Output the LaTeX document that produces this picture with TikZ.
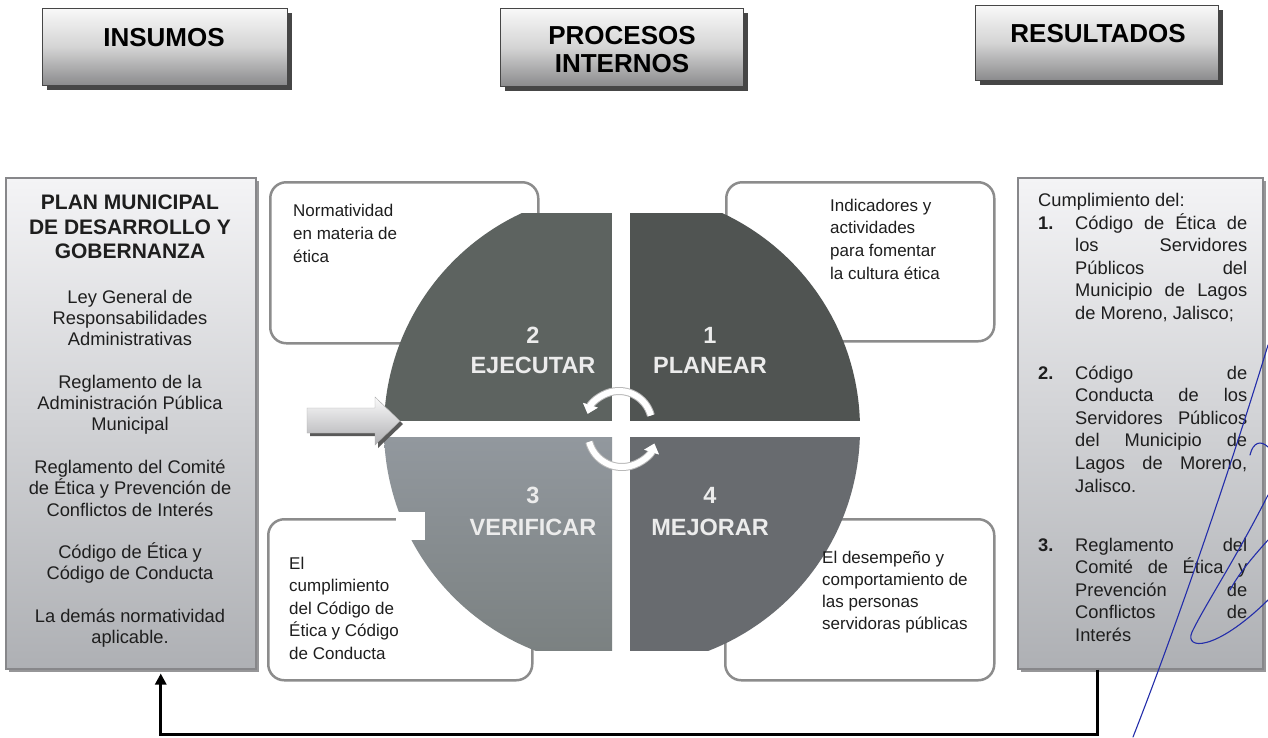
\documentclass[tikz,border=0pt]{standalone}
\usepackage{fontspec}
\setmainfont{Liberation Sans}
\usetikzlibrary{arrows.meta,shadows}
\definecolor{hdrtop}{RGB}{248,248,248}
\definecolor{hdrmid}{RGB}{212,212,212}
\definecolor{hdrbot}{RGB}{138,138,140}
\definecolor{hdrline}{RGB}{70,70,70}
\definecolor{shd}{RGB}{70,70,70}
\definecolor{pantop}{RGB}{244,244,246}
\definecolor{panbot}{RGB}{174,176,180}
\definecolor{panline}{RGB}{135,135,138}
\definecolor{panshd}{RGB}{150,150,152}
\definecolor{boxline}{RGB}{140,140,140}
\definecolor{qtl}{RGB}{93,99,96}
\definecolor{qtr}{RGB}{80,84,82}
\definecolor{qbltop}{RGB}{146,152,158}
\definecolor{qblbot}{RGB}{122,128,128}
\definecolor{qbr}{RGB}{104,107,111}
\definecolor{qtext}{RGB}{236,236,236}
\definecolor{txt}{RGB}{30,30,30}
\definecolor{sigblue}{RGB}{35,45,170}
\definecolor{arrtop}{RGB}{250,250,250}
\definecolor{arrbot}{RGB}{175,175,178}
\newcommand{\jl}[1]{\makebox[172pt][s]{#1}}
\newcommand{\ind}{\hspace*{37pt}}
\begin{document}
\begin{tikzpicture}[x=1pt,y=-1pt,
  hdr/.style={draw=hdrline, line width=1pt, top color=hdrtop, bottom color=hdrbot, middle color=hdrmid,
    drop shadow={shadow xshift=4pt, shadow yshift=-4pt, fill=shd, opacity=1}, inner sep=0pt, anchor=north west},
  hdrtext/.style={anchor=base, inner sep=0pt, font=\fontsize{26}{28}\selectfont\bfseries, text=black},
  panel/.style={draw=panline, line width=1.5pt, top color=pantop, bottom color=panbot,
    drop shadow={shadow xshift=3pt, shadow yshift=-3pt, fill=panshd, opacity=1}, inner sep=0pt, anchor=north west},
  cbox/.style={draw=boxline, line width=2.5pt, fill=white, rounded corners=16pt, inner sep=0pt, anchor=north west},
  txtnode/.style={inner sep=0pt, text=txt},
  qlabel/.style={anchor=base, inner sep=0pt, text=qtext},
  cyc/.style={white, line width=6pt, -{Triangle[length=9pt,width=15pt]}, preaction={draw=gray!55, line width=8pt}},
  fb/.style={line width=2.8pt, black, -{Triangle[length=11pt,width=11pt]}},
  sig/.style={sigblue, line width=1.1pt, line cap=round}
]
\useasboundingbox (0,0) rectangle (1268,737);
\fill[white] (0,0) rectangle (1268,737);

% headers
\node[hdr, minimum width=245pt, minimum height=77pt] (h1) at (42,8) {};
\node[hdr, minimum width=243pt, minimum height=78pt] (h2) at (500,8) {};
\node[hdr, minimum width=243pt, minimum height=75pt] (h3) at (975,5) {};
\node[hdrtext] (t1) at (164,46.5) {INSUMOS};
\node[hdrtext] (t2) at (622,44.5) {\parbox[t]{220pt}{\centering PROCESOS\\INTERNOS}};
\node[hdrtext] (t3) at (1098,42.5) {RESULTADOS};

% side panels
\node[panel, minimum width=250pt, minimum height=491pt] (lb) at (5,177) {};
\node[panel, minimum width=245pt, minimum height=491pt] (rb) at (1017,177) {};

\node[txtnode, anchor=base] (lbt) at (130,209.5) {\parbox[t]{245pt}{\centering\fontsize{21}{24.5}\selectfont\bfseries PLAN MUNICIPAL\\DE DESARROLLO Y\\GOBERNANZA}};
\node[txtnode, anchor=base] (lbb) at (130,303) {\parbox[t]{245pt}{\centering\fontsize{18.3}{21.3}\selectfont Ley General de\\Responsabilidades\\Administrativas\\[21.3pt]Reglamento de la\\Administración Pública\\Municipal\\[21.3pt]Reglamento del Comité\\de Ética y Prevención de\\Conflictos de Interés\\[21.3pt]Código de Ética y\\Código de Conducta\\[21.3pt]La demás normatividad\\aplicable.}};

\node[txtnode, anchor=base west] (rb0) at (1038,206) {\fontsize{18.3}{22.6}\selectfont Cumplimiento del:};
\node[txtnode, anchor=base west] (rb1) at (1038,229) {\parbox[t]{215pt}{\fontsize{18.3}{22.6}\selectfont\makebox[37pt][l]{\bfseries 1.}\jl{Código de Ética de}\\\ind\jl{los Servidores}\\\ind\jl{Públicos del}\\\ind\jl{Municipio de Lagos}\\\ind de Moreno, Jalisco;}};
\node[txtnode, anchor=base west] (rb2) at (1038,379) {\parbox[t]{215pt}{\fontsize{18.3}{22.6}\selectfont\makebox[37pt][l]{\bfseries 2.}\jl{Código de}\\\ind\jl{Conducta de los}\\\ind\jl{Servidores Públicos}\\\ind\jl{del Municipio de}\\\ind\jl{Lagos de Moreno,}\\\ind Jalisco.}};
\node[txtnode, anchor=base west] (rb3) at (1038,551) {\parbox[t]{215pt}{\fontsize{18.3}{22.6}\selectfont\makebox[37pt][l]{\bfseries 3.}\jl{Reglamento del}\\\ind\jl{Comité de Ética y}\\\ind\jl{Prevención de}\\\ind\jl{Conflictos de}\\\ind Interés}};

% corner boxes
\node[cbox, minimum width=268pt, minimum height=161pt] (b1) at (269,181) {};
\node[cbox, minimum width=268pt, minimum height=159pt] (b2) at (725,181) {};
\node[cbox, minimum width=264pt, minimum height=161pt] (b3) at (267,518) {};
\node[cbox, minimum width=269pt, minimum height=161pt] (b4) at (724,518) {};

% circle of four quadrants
\begin{scope}
  \clip (622,429) circle (238pt);
  \clip (300,213) rectangle (950,650);
  \fill[qtl] (370,200) rectangle (612,421);
  \fill[qtr] (630,200) rectangle (880,421);
  \shade[top color=qbltop, bottom color=qblbot] (370,437) rectangle (612,660);
  \fill[qbr] (630,437) rectangle (880,660);
\end{scope}
\fill[white] (396,512) rectangle (425,540);

% entry block arrow
\fill[gray!70!black] (310,411) -- (378,411) -- (378,400) -- (403,424) -- (378,448) -- (378,436) -- (310,436) -- cycle;
\shade[top color=arrtop, bottom color=arrbot, draw=gray!65] (307,408) -- (375,408) -- (375,397) -- (400,421) -- (375,445) -- (375,433) -- (307,433) -- cycle;

% cycle arrows
\draw[cyc] ([shift={(15:33pt)}]619,424) arc[start angle=15, end angle=162, radius=33pt];
\draw[cyc] ([shift={(195:34pt)}]622,433) arc[start angle=195, end angle=342, radius=34pt];

% quadrant labels
\node[qlabel] (q2) at (533,343.5) {\parbox[t]{160pt}{\centering\fontsize{23.5}{30}\selectfont\bfseries 2\\EJECUTAR}};
\node[qlabel] (q1) at (710,343.5) {\parbox[t]{160pt}{\centering\fontsize{23.5}{30}\selectfont\bfseries 1\\PLANEAR}};
\node[qlabel] (q3) at (533,503.5) {\parbox[t]{160pt}{\centering\fontsize{23.5}{31.5}\selectfont\bfseries 3\\VERIFICAR}};
\node[qlabel] (q4) at (710,503.5) {\parbox[t]{160pt}{\centering\fontsize{23.5}{31.5}\selectfont\bfseries 4\\MEJORAR}};

% corner box texts
\node[txtnode, anchor=base west] (b1t) at (293,216) {\parbox[t]{150pt}{\fontsize{17}{23}\selectfont Normatividad\\en materia de\\ética}};
\node[txtnode, anchor=base west] (b2t) at (830,211) {\parbox[t]{150pt}{\fontsize{17}{22.7}\selectfont Indicadores y\\actividades\\para fomentar\\la cultura ética}};
\node[txtnode, anchor=base west] (b3t) at (289,569) {\parbox[t]{150pt}{\fontsize{17}{22.5}\selectfont El\\cumplimiento\\del Código de\\Ética y Código\\de Conducta}};
\node[txtnode, anchor=base west] (b4t) at (822,563) {\parbox[t]{160pt}{\fontsize{17}{22}\selectfont El desempeño y\\comportamiento de\\las personas\\servidoras públicas}};

% feedback connector
\draw[fb] ([xshift=-42.5pt]rb.south) -- ++(0,65) -| ([xshift=30pt,yshift=-4pt]lb.south);

% pen marks
\draw[sig] (1133,737) .. controls (1175,630) and (1230,470) .. (1268,345);
\draw[sig] (1268,495) .. controls (1235,560) and (1205,605) .. (1192,632) .. controls (1184,650) and (1215,652) .. (1268,600);
\draw[sig] (1268,540) .. controls (1250,560) and (1238,575) .. (1230,590);
\draw[sig] (1250,455) .. controls (1253,442) and (1261,440) .. (1268,447);
\end{tikzpicture}
\end{document}
